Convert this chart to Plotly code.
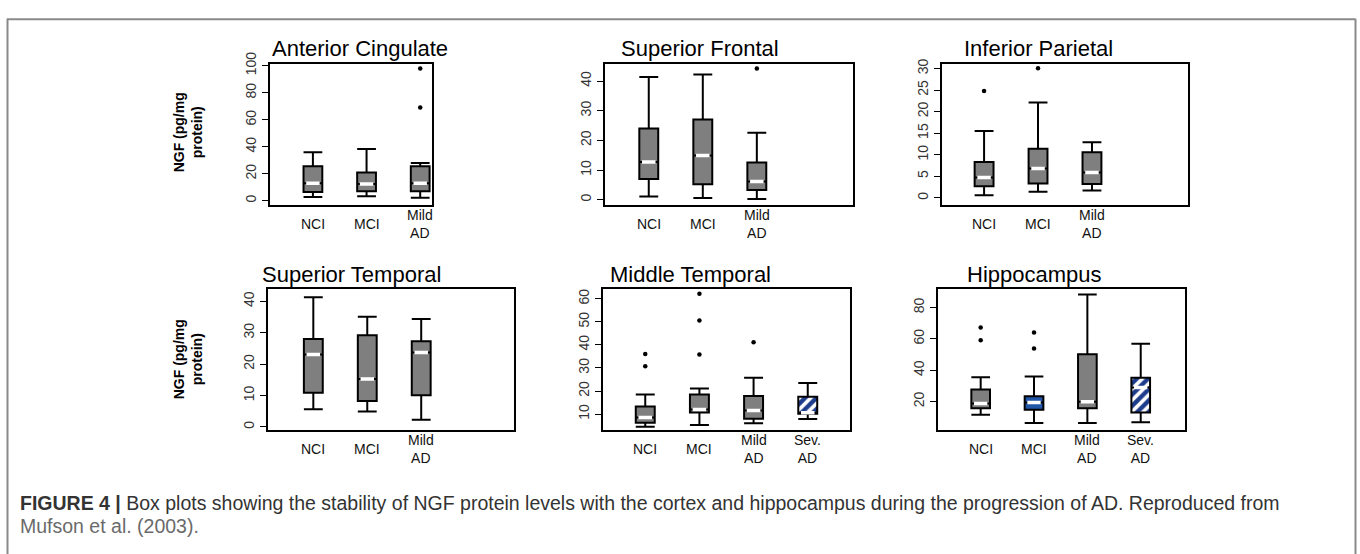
import plotly.graph_objects as go

W, H = 1360, 554

# ---------------- data ----------------
titles = ["Anterior Cingulate", "Superior Frontal", "Inferior Parietal",
          "Superior Temporal", "Middle Temporal", "Hippocampus"]
groups3 = ["NCI", "MCI", "Mild<br>AD"]
groups4 = ["NCI", "MCI", "Mild<br>AD", "Sev.<br>AD"]

# Anterior Cingulate
ac_low = [2.9, 3.4, 2.2]
ac_q1 = [6.5, 7.0, 7.0]
ac_med = [13.0, 12.5, 13.0]
ac_q3 = [25.6, 21.0, 25.6]
ac_high = [36.0, 38.4, 28.0]
ac_out = [[], [], [98, 69]]
ac_ticks = [0, 20, 40, 60, 80, 100]

# Superior Frontal
sf_low = [1.1, 0.6, 0.2]
sf_q1 = [7.0, 5.2, 3.3]
sf_med = [12.7, 14.9, 6.1]
sf_q3 = [24.0, 27.0, 12.5]
sf_high = [41.4, 42.2, 22.6]
sf_out = [[], [], [44.2]]
sf_ticks = [0, 10, 20, 30, 40]

# Inferior Parietal
ip_low = [0.6, 1.4, 1.7]
ip_q1 = [2.7, 3.3, 3.2]
ip_med = [4.7, 6.8, 5.9]
ip_q3 = [8.3, 11.4, 10.6]
ip_high = [15.5, 22.1, 12.9]
ip_out = [[24.8], [30.1], []]
ip_ticks = [0, 5, 10, 15, 20, 25, 30]

# Superior Temporal
st_low = [5.6, 4.9, 2.3]
st_q1 = [10.9, 8.3, 10.1]
st_med = [23.1, 15.3, 23.7]
st_q3 = [28.0, 29.2, 27.3]
st_high = [41.3, 35.1, 34.4]
st_out = [[], [], []]
st_ticks = [0, 10, 20, 30, 40]

# Middle Temporal
mt_low = [4.5, 5.3, 6.0, 7.9]
mt_q1 = [6.2, 10.7, 8.0, 10.1]
mt_med = [8.5, 12.0, 11.6, 10.6]
mt_q3 = [13.3, 18.5, 17.8, 17.5]
mt_high = [18.5, 21.1, 25.7, 23.5]
mt_out = [[36.0, 30.7], [62.2, 50.6, 35.8], [41.2], []]
mt_ticks = [10, 20, 30, 40, 50, 60]

# Hippocampus
hc_low = [11.6, 6.4, 6.4, 6.9]
hc_q1 = [15.8, 14.8, 15.8, 13.1]
hc_med = [18.9, 19.4, 20.0, 29.0]
hc_q3 = [27.7, 23.5, 50.2, 35.2]
hc_high = [35.6, 36.0, 88.3, 56.9]
hc_out = [[67.3, 59.1], [64.1, 53.9], [], []]
hc_ticks = [20, 40, 60, 80]

ylabel = "NGF (pg/mg<br>protein)"
caption_1 = "<b>FIGURE 4 |</b> Box plots showing the stability of NGF protein levels with the cortex and hippocampus during the progression of AD. Reproduced from"
caption_2 = "Mufson et al. (2003)."

# ---------------- styles ----------------
GRAY = "#7f7f7f"
BLUE = "#2257a8"
NAVY = "#1d3c8c"

panels = [
    dict(data=(ac_low, ac_q1, ac_med, ac_q3, ac_high, ac_out), groups=groups3, ticks=ac_ticks,
         px=(270, 432, 53, 197), xr=[0.2, 3.22], yr=[-2.9, 101.4], fills=["g", "g", "g"], tx=270, ty=37),
    dict(data=(sf_low, sf_q1, sf_med, sf_q3, sf_high, sf_out), groups=groups3, ticks=sf_ticks,
         px=(605, 853, 53, 197), xr=[0.19, 4.78], yr=[-1.7, 45.8], fills=["g", "g", "g"], tx=619, ty=37),
    dict(data=(ip_low, ip_q1, ip_med, ip_q3, ip_high, ip_out), groups=groups3, ticks=ip_ticks,
         px=(942, 1188, 53, 197), xr=[0.22, 4.78], yr=[-1.6, 31.1], fills=["g", "g", "g"], tx=962, ty=37),
    dict(data=(st_low, st_q1, st_med, st_q3, st_high, st_out), groups=groups3, ticks=st_ticks,
         px=(268, 514, 283, 427), xr=[0.16, 4.72], yr=[-0.9, 44.0], fills=["g", "g", "g"], tx=260, ty=268),
    dict(data=(mt_low, mt_q1, mt_med, mt_q3, mt_high, mt_out), groups=groups4, ticks=mt_ticks,
         px=(603, 850, 283, 427), xr=[0.22, 4.78], yr=[3.2, 64.3], fills=["g", "g", "g", "h"], tx=608, ty=268),
    dict(data=(hc_low, hc_q1, hc_med, hc_q3, hc_high, hc_out), groups=groups4, ticks=hc_ticks,
         px=(938, 1185, 283, 427), xr=[0.2, 4.83], yr=[2.1, 91.9], fills=["g", "b", "g", "h"], tx=965, ty=268),
]

BW = 0.35  # box width in category units

fig = go.Figure()
layout = dict(width=W, height=H, margin=dict(l=0, r=0, t=0, b=0),
              paper_bgcolor="white", plot_bgcolor="white", showlegend=False,
              boxmode="overlay", barmode="overlay",
              font=dict(family="Liberation Sans, Arial, sans-serif", color="#222"))
annotations = []
shapes = []

for i, p in enumerate(panels):
    k = "" if i == 0 else str(i + 1)
    xa, ya = "x" + k, "y" + k
    l, r, t, b = p["px"]
    layout["xaxis" + k] = dict(domain=[l / W, r / W], range=p["xr"], anchor=ya,
                               showticklabels=False, ticks="", showgrid=False, zeroline=False,
                               showline=True, mirror=True, linecolor="black", linewidth=2,
                               fixedrange=True)
    layout["yaxis" + k] = dict(domain=[1 - b / H, 1 - t / H], range=p["yr"], anchor=xa,
                               tickvals=p["ticks"], ticks="outside", ticklen=6, tickwidth=1,
                               tickcolor="black", tickangle=-90,
                               tickfont=dict(size=14, color="#333"),
                               showgrid=False, zeroline=False,
                               showline=True, mirror=True, linecolor="black", linewidth=2,
                               fixedrange=True)
    low, q1, med, q3, high, outs = p["data"]
    n = len(q1)
    mx, my = [], []
    ox, oy = [], []
    for j in range(n):
        pos = j + 1
        f = p["fills"][j]
        if f == "h":
            fig.add_trace(go.Bar(x=[pos], y=[q3[j] - q1[j]], base=[q1[j]], width=BW,
                                 xaxis=xa, yaxis=ya,
                                 marker=dict(color=NAVY, line=dict(width=0),
                                             pattern=dict(shape="/", fgcolor="white", bgcolor=NAVY,
                                                          size=8, solidity=0.45, fillmode="replace"))))
            fc = "rgba(0,0,0,0)"
        elif f == "b":
            fc = BLUE
        else:
            fc = GRAY
        fig.add_trace(go.Box(x=[pos], q1=[q1[j]], median=[med[j]], q3=[q3[j]],
                             lowerfence=[low[j]], upperfence=[high[j]],
                             width=BW, whiskerwidth=1, fillcolor=fc,
                             line=dict(color="black", width=2),
                             boxpoints=False, hoverinfo="skip",
                             xaxis=xa, yaxis=ya))
        mx += [pos - BW / 2 + 0.05, pos + BW / 2 - 0.05, None]
        my += [med[j], med[j], None]
        for v in outs[j]:
            ox.append(pos)
            oy.append(v)
    fig.add_trace(go.Scatter(x=mx, y=my, mode="lines", line=dict(color="white", width=3.5),
                             xaxis=xa, yaxis=ya, hoverinfo="skip"))
    if ox:
        fig.add_trace(go.Scatter(x=ox, y=oy, mode="markers",
                                 marker=dict(color="black", size=4.5),
                                 xaxis=xa, yaxis=ya, hoverinfo="skip"))
    # category labels under the plot
    for j, g in enumerate(p["groups"]):
        annotations.append(dict(x=j + 1, xref=xa, y=1 - (b + 20) / H, yref="paper",
                                text=g, showarrow=False, xanchor="center", yanchor="middle",
                                font=dict(size=14, color="#111")))
    # panel title
    annotations.append(dict(x=p["tx"] / W, y=1 - p["ty"] / H, xref="paper", yref="paper",
                            text=titles[i], showarrow=False, xanchor="left", yanchor="middle",
                            font=dict(size=22, color="black")))

# y-axis titles (column 1)
for yc in (123, 355):
    annotations.append(dict(x=188 / W, y=1 - yc / H, xref="paper", yref="paper",
                            text="<b>" + ylabel + "</b>", textangle=-90, showarrow=False,
                            xanchor="center", yanchor="middle",
                            font=dict(size=14, color="black")))

# caption
annotations.append(dict(x=18 / W, y=1 - 502 / H, xref="paper", yref="paper", text=caption_1,
                        showarrow=False, xanchor="left", yanchor="middle",
                        font=dict(size=19.5, color="#333")))
annotations.append(dict(x=18 / W, y=1 - 525 / H, xref="paper", yref="paper", text=caption_2,
                        showarrow=False, xanchor="left", yanchor="middle",
                        font=dict(size=19.5, color="#6a6a6a")))

# outer frame (open at bottom)
fc_ = "#8a8a8a"
shapes.append(dict(type="line", xref="paper", yref="paper", x0=7 / W, x1=1355.5 / W,
                   y0=1 - 7.5 / H, y1=1 - 7.5 / H, line=dict(color=fc_, width=2)))
shapes.append(dict(type="line", xref="paper", yref="paper", x0=7.5 / W, x1=7.5 / W,
                   y0=1 - 7 / H, y1=0, line=dict(color=fc_, width=2)))
shapes.append(dict(type="line", xref="paper", yref="paper", x0=1355.5 / W, x1=1355.5 / W,
                   y0=1 - 7 / H, y1=0, line=dict(color=fc_, width=2)))

layout["annotations"] = annotations
layout["shapes"] = shapes
fig.update_layout(**layout)

fig.write_html("out.html", config={"displayModeBar": False},
               post_script="document.body.style.margin='0';document.body.style.overflow='hidden';")
